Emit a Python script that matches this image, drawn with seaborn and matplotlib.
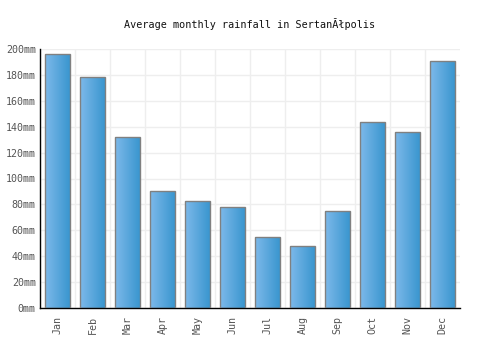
import numpy as np
import pandas as pd
import matplotlib
matplotlib.use("Agg")
import matplotlib.pyplot as plt
import seaborn as sns

months = ["Jan", "Feb", "Mar", "Apr", "May", "Jun", "Jul", "Aug", "Sep", "Oct", "Nov", "Dec"]
rainfall = [196, 178, 132, 90, 83, 78, 55, 48, 75, 144, 136, 191]
yticks = [0, 20, 40, 60, 80, 100, 120, 140, 160, 180, 200]
title = "Average monthly rainfall in SertanĂłpolis"

df = pd.DataFrame({"month": months, "rain": rainfall})

sns.set_style("white")
plt.rcParams['font.family'] = ['DejaVu Sans Mono']

fig = plt.figure(figsize=(5, 3.5), dpi=100)
ax = fig.add_axes([0.08, 0.12, 0.84, 0.74])

sns.barplot(data=df, x="month", y="rain", ax=ax, width=0.69,
            color="#5aa8e0", edgecolor="#808080", linewidth=1, saturation=1)

# horizontal gradient inside each bar
grad = np.linspace(0, 1, 64).reshape(1, -1)
cmap = matplotlib.colors.LinearSegmentedColormap.from_list("g", ["#7db9ea", "#3a96cf"])
for p in ax.patches:
    x0, y0 = p.get_x(), p.get_y()
    w, h = p.get_width(), p.get_height()
    im = ax.imshow(grad, cmap=cmap, aspect="auto", extent=[x0, x0 + w, y0, y0 + h],
                   zorder=p.get_zorder() - 0.1)
    im.set_clip_path(p)
    p.set_facecolor("none")
    p.set_zorder(3)

ax.set_xlim(-0.5, len(months) - 0.5)
ax.set_ylim(0, 200)
ax.set_yticks(yticks)
ax.set_yticklabels([f"{v}mm" for v in yticks])
ax.set_xticks(np.arange(len(months)) - 0.5, minor=True)
ax.grid(which="minor", axis="x", color="#eeeeee", linewidth=1)
ax.grid(which="major", axis="y", color="#eeeeee", linewidth=1)
ax.set_axisbelow(True)
ax.tick_params(axis="x", which="major", labelrotation=90, length=0, pad=6)
ax.tick_params(axis="both", labelsize=7.2, labelcolor="#555555")
ax.tick_params(axis="y", length=0, pad=3)
ax.tick_params(which="minor", length=0)
ax.set_xlabel("")
ax.set_ylabel("")
for s in ["top", "right"]:
    ax.spines[s].set_visible(False)
for s in ["left", "bottom"]:
    ax.spines[s].set_color("black")
    ax.spines[s].set_linewidth(1)
ax.set_title(title, fontsize=7.3, pad=15, color="#111111")

fig.savefig("out.png", dpi=100)
